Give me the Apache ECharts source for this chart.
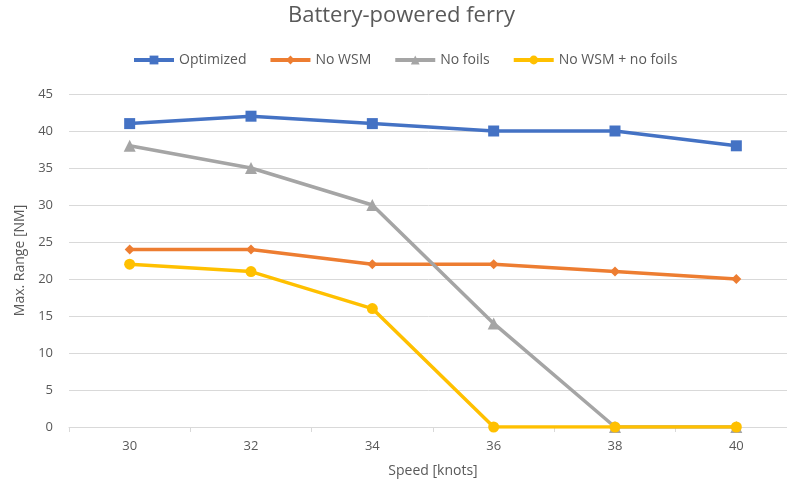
<!DOCTYPE html>
<html><head><meta charset="utf-8">
<script src="https://cdn.jsdelivr.net/npm/echarts@6/dist/echarts.min.js"></script>
<style>html,body{margin:0;padding:0;background:#fff}#c{width:787px;height:488px}</style>
</head><body><div id="c"></div>
<script>
const categories = ['30','32','34','36','38','40'];
const optimized = [41, 42, 41, 40, 40, 38];
const noWSM = [24, 24, 22, 22, 21, 20];
const noFoils = [38, 35, 30, 14, 0, 0];
const noWSMnoFoils = [22, 21, 16, 0, 0, 0];
const seriesNames = ['Optimized', 'No WSM', 'No foils', 'No WSM + no foils'];
const colors = ['#4472C4', '#ED7D31', '#A5A5A5', '#FFC000'];
const symbols = ['rect', 'diamond', 'triangle', 'circle'];
const symbolSizes = [11, 10, 12, 11];
const dataSets = [optimized, noWSM, noFoils, noWSMnoFoils];
const font = 'Open Sans';
const chart = echarts.init(document.getElementById('c'), null, {renderer: 'canvas'});
chart.setOption({
  animation: false,
  color: colors,
  title: {text: 'Battery-powered ferry', left: 283, top: 0,
    textStyle: {fontFamily: font, fontSize: 22, fontWeight: 'normal', color: '#595959'}},
  legend: {top: 48, left: 127, itemWidth: 40, itemHeight: 11, itemGap: 22,
    lineStyle: {width: 4},
    textStyle: {fontFamily: font, fontSize: 14, color: '#595959'},
    data: seriesNames},
  grid: {left: 69, width: 728, top: 94, bottom: 61, containLabel: false, outerBoundsMode: 'none'},
  xAxis: {type: 'category', data: categories, boundaryGap: true,
    name: 'Speed [knots]', nameLocation: 'middle', nameGap: 37,
    nameTextStyle: {fontFamily: font, fontSize: 14, color: '#595959'},
    axisLine: {lineStyle: {color: '#d9d9d9', width: 1}},
    axisTick: {show: true, length: 5, lineStyle: {color: '#d9d9d9'}},
    axisLabel: {fontFamily: font, fontSize: 13, color: '#595959', margin: 13}},
  yAxis: {type: 'value', min: 0, max: 45, interval: 5,
    name: 'Max. Range [NM]', nameLocation: 'middle', nameGap: 38,
    nameTextStyle: {fontFamily: font, fontSize: 14, color: '#595959'},
    axisLine: {show: false}, axisTick: {show: false},
    axisLabel: {fontFamily: font, fontSize: 13, color: '#595959', margin: 16},
    splitLine: {lineStyle: {color: '#d9d9d9', width: 1}}},
  series: dataSets.map((d, i) => ({
    name: seriesNames[i], type: 'line', data: d,
    symbol: symbols[i], symbolSize: symbolSizes[i], showAllSymbol: true,
    lineStyle: {width: 3.5, color: colors[i]},
    itemStyle: {color: colors[i]}
  }))
});
</script></body></html>
